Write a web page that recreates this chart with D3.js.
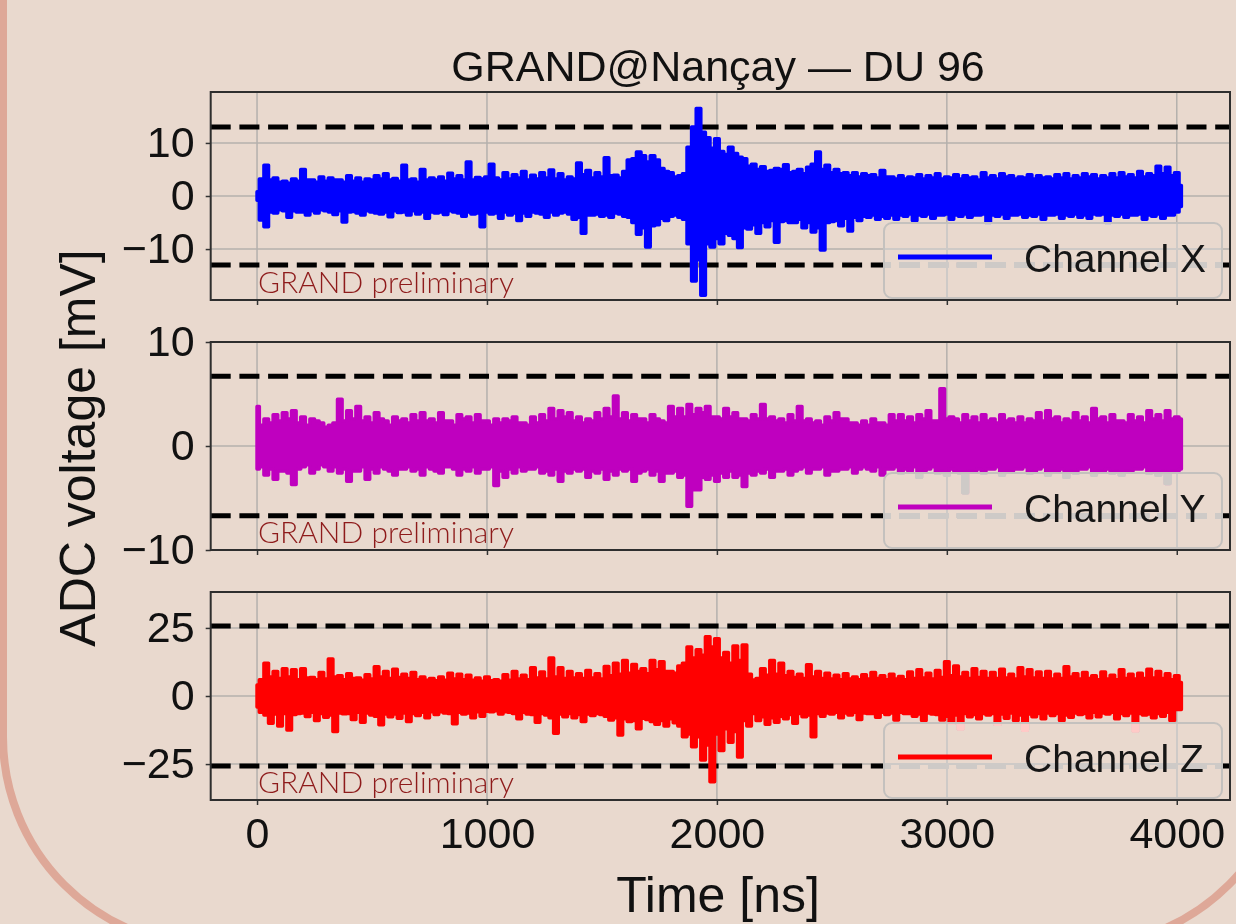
<!DOCTYPE html>
<html>
<head>
<meta charset="utf-8">
<script src="https://cdn.jsdelivr.net/npm/d3@7"></script>
<style>
  html, body { margin: 0; padding: 0; background: #e9d9ce; }
  svg { display: block; }
  .legend-veil { mix-blend-mode: lighten; }
</style>
</head>
<body>
<div id="chart"></div>
<script>
// traces are kept as upper / lower envelopes in 20 ns bins (mV)
const binNs = 20;

const channelXUpper = [
  0.8, 3.2, 5.8, 3.0, 3.4, 2.6, 2.8, 2.4, 3.2, 2.8,
  5.0, 3.0, 3.0, 2.6, 3.6, 2.8, 3.4, 3.0, 3.0, 2.6,
  3.8, 2.8, 3.4, 2.6, 3.2, 3.0, 3.8, 3.2, 4.2, 3.0,
  3.3, 2.8, 5.8, 3.0, 3.2, 2.6, 5.0, 3.0, 3.4, 3.0,
  3.6, 2.8, 4.3, 3.2, 3.8, 3.0, 6.4, 3.0, 3.5, 3.2,
  3.6, 6.0, 3.4, 3.0, 4.4, 3.2, 4.0, 3.4, 4.6, 3.0,
  3.9, 3.2, 4.4, 3.4, 4.9, 3.2, 4.2, 3.0, 3.6, 3.2,
  6.2, 4.0, 4.8, 3.4, 4.4, 3.6, 7.2, 3.8, 3.9, 3.4,
  4.6, 6.8, 7.0, 8.3, 7.6, 6.4, 7.6, 6.8, 5.2, 4.6,
  4.4, 3.6, 3.8, 4.2, 9.2, 13.0, 16.5, 12.0, 11.0, 9.0,
  10.8, 8.4, 7.8, 9.2, 8.0, 7.3, 7.0, 5.6, 6.0, 5.0,
  5.5, 4.6, 4.8, 5.2, 5.0, 5.9, 4.4, 4.6, 5.0, 4.2,
  5.4, 6.0, 8.3, 5.0, 5.8, 4.4, 5.0, 4.2, 4.4, 3.8,
  4.4, 3.6, 4.2, 3.8, 4.0, 3.4, 4.8, 3.6, 3.6, 3.2,
  3.8, 3.2, 3.6, 3.4, 4.0, 3.2, 3.8, 3.4, 4.2, 3.2,
  3.6, 3.4, 4.0, 3.2, 3.8, 3.4, 3.6, 3.0, 4.4, 3.4,
  3.8, 3.2, 4.2, 3.6, 3.8, 3.2, 3.6, 3.4, 4.0, 3.2,
  3.8, 3.4, 3.6, 3.2, 4.0, 3.4, 4.2, 3.2, 3.8, 3.4,
  4.2, 3.6, 4.0, 3.2, 3.8, 3.4, 4.2, 3.4, 4.4, 3.6,
  4.0, 3.4, 4.6, 3.6, 4.2, 3.8, 5.6, 4.2, 5.4, 3.8,
  4.4, 2.0
];

const channelXLower = [
  -0.8, -4.5, -5.8, -3.0, -3.2, -2.6, -2.8, -4.0, -2.8, -3.0,
  -3.0, -3.6, -2.8, -3.2, -2.6, -2.8, -3.0, -3.5, -2.8, -4.9,
  -3.0, -2.9, -3.2, -3.6, -2.8, -3.0, -3.2, -3.4, -3.0, -3.9,
  -2.8, -3.1, -3.0, -3.6, -2.8, -3.4, -3.0, -4.2, -3.0, -3.2,
  -3.0, -3.5, -2.8, -3.0, -3.2, -3.8, -3.0, -3.4, -3.2, -5.8,
  -3.0, -3.4, -3.2, -4.2, -3.0, -3.6, -3.2, -4.6, -3.2, -3.8,
  -3.0, -3.2, -3.4, -4.0, -3.0, -3.6, -3.2, -3.0, -3.4, -4.4,
  -4.0, -7.0, -3.6, -3.6, -3.4, -3.8, -3.6, -4.0, -3.2, -3.4,
  -3.8, -4.0, -5.0, -7.2, -6.0, -9.6, -5.6, -5.4, -4.2, -4.6,
  -3.8, -3.6, -4.0, -4.4, -9.0, -16.0, -12.0, -18.7, -9.0, -9.6,
  -8.0, -9.0, -7.0, -7.4, -8.0, -9.7, -6.0, -6.2, -5.4, -7.0,
  -5.0, -5.8, -4.6, -8.7, -4.8, -4.6, -5.0, -5.0, -4.4, -6.0,
  -5.0, -6.8, -6.0, -10.2, -5.0, -4.8, -4.6, -5.6, -4.2, -6.6,
  -4.0, -4.6, -3.8, -4.0, -3.6, -4.4, -3.8, -4.2, -3.6, -4.4,
  -3.6, -3.8, -3.4, -4.6, -3.6, -3.8, -3.4, -4.2, -3.6, -3.6,
  -3.4, -4.4, -3.6, -3.8, -3.4, -4.0, -3.6, -3.6, -3.4, -5.0,
  -3.6, -3.8, -3.4, -4.2, -3.6, -3.6, -3.4, -4.0, -3.6, -3.8,
  -3.4, -4.4, -3.6, -3.6, -3.4, -4.2, -3.6, -3.8, -3.4, -4.0,
  -3.6, -4.2, -3.4, -3.6, -3.4, -5.0, -3.6, -3.8, -3.4, -4.0,
  -3.6, -3.6, -3.4, -4.4, -3.6, -3.8, -3.4, -4.2, -3.6, -3.6,
  -3.0, -2.0
];

const channelYUpper = [
  3.8, 2.0, 2.6, 2.2, 3.0, 2.4, 3.2, 2.6, 3.4, 2.2,
  2.8, 2.0, 2.6, 2.4, 2.2, 1.8, 2.0, 2.2, 4.5, 2.4,
  3.4, 2.6, 3.8, 2.4, 2.8, 2.2, 3.2, 2.6, 2.4, 2.0,
  2.8, 2.4, 2.6, 2.2, 3.0, 2.4, 3.2, 2.4, 2.6, 2.2,
  3.2, 2.4, 2.4, 2.0, 3.0, 2.6, 2.8, 2.2, 3.0, 2.4,
  2.4, 2.0, 2.6, 2.2, 2.6, 2.4, 2.8, 2.2, 2.2, 2.0,
  2.8, 2.2, 3.0, 2.4, 3.6, 2.6, 3.4, 2.8, 3.2, 2.4,
  2.8, 2.2, 2.6, 2.4, 3.2, 2.6, 3.6, 2.8, 4.8, 2.6,
  3.2, 2.4, 3.0, 2.6, 2.6, 2.2, 3.0, 2.6, 2.4, 2.2,
  3.8, 2.8, 3.6, 2.8, 4.0, 3.0, 3.6, 3.2, 3.8, 2.8,
  2.8, 2.6, 3.6, 2.8, 3.2, 2.6, 2.6, 2.4, 3.0, 2.6,
  4.0, 2.6, 2.8, 2.4, 2.6, 2.2, 3.0, 2.4, 3.8, 2.4,
  2.6, 2.2, 2.4, 2.0, 2.8, 2.4, 3.2, 2.6, 2.6, 2.2,
  2.2, 2.0, 2.4, 2.0, 2.6, 2.2, 2.2, 2.0, 3.0, 2.4,
  3.0, 2.4, 2.8, 2.2, 3.0, 2.6, 3.4, 2.4, 2.4, 5.5,
  2.6, 2.8, 2.6, 2.2, 3.0, 2.4, 2.8, 2.2, 3.0, 2.4,
  2.6, 2.2, 3.0, 2.4, 2.6, 2.2, 2.8, 2.2, 2.6, 2.4,
  3.2, 2.4, 3.4, 2.6, 2.8, 2.2, 2.6, 2.4, 3.2, 2.4,
  2.8, 2.2, 3.6, 2.6, 2.8, 2.2, 3.0, 2.4, 2.4, 2.2,
  3.0, 2.4, 2.8, 2.2, 3.4, 2.6, 3.0, 2.4, 3.4, 2.6,
  2.8, 2.6
];

const channelYLower = [
  -2.2, -2.0, -2.8, -2.2, -3.2, -2.4, -2.4, -2.6, -3.7, -2.2,
  -2.0, -1.8, -2.6, -2.2, -1.8, -2.0, -2.4, -2.0, -2.6, -2.2,
  -3.4, -2.4, -2.4, -2.0, -3.2, -2.2, -2.6, -2.0, -2.2, -2.4,
  -2.8, -2.2, -2.2, -2.0, -2.4, -2.2, -2.8, -2.0, -2.2, -2.4,
  -2.6, -2.0, -2.0, -2.2, -2.8, -2.2, -2.4, -2.0, -2.6, -2.2,
  -2.2, -2.0, -3.8, -2.4, -3.0, -2.2, -2.6, -2.0, -2.4, -2.2,
  -2.2, -2.0, -2.6, -2.4, -2.8, -2.2, -3.4, -2.4, -2.6, -2.2,
  -2.4, -2.2, -3.0, -2.4, -2.6, -2.2, -3.2, -2.4, -2.8, -2.2,
  -2.4, -2.2, -3.4, -2.6, -2.4, -2.2, -2.8, -2.4, -3.4, -2.6,
  -2.6, -2.4, -3.0, -2.8, -5.8, -4.2, -4.2, -3.0, -3.2, -2.8,
  -3.4, -2.6, -3.0, -2.4, -3.0, -2.8, -3.9, -2.6, -2.8, -2.4,
  -2.6, -2.2, -3.0, -2.4, -2.4, -2.2, -2.8, -2.4, -2.2, -2.0,
  -2.6, -2.2, -2.2, -2.0, -2.8, -2.4, -2.4, -2.2, -2.2, -2.0,
  -2.6, -2.2, -2.0, -2.2, -2.4, -2.0, -2.8, -2.2, -2.2, -2.0,
  -2.6, -2.2, -2.4, -2.0, -3.0, -2.4, -2.2, -2.0, -2.6, -2.4,
  -2.8, -2.2, -2.4, -2.6, -4.5, -2.4, -2.4, -2.2, -2.6, -2.2,
  -2.2, -2.0, -2.8, -2.4, -2.4, -2.2, -2.2, -2.0, -2.6, -2.4,
  -2.2, -2.0, -2.8, -2.4, -2.4, -2.2, -3.0, -2.4, -2.6, -2.2,
  -2.2, -2.0, -2.8, -2.4, -2.4, -2.2, -2.6, -2.4, -2.8, -2.4,
  -2.4, -2.2, -2.2, -2.0, -2.6, -2.4, -2.8, -2.4, -3.6, -2.4,
  -2.4, -2.2
];

const channelZUpper = [
  4.0, 6.0, 12.0, 7.0, 9.0, 6.4, 10.0, 7.0, 9.6, 6.0,
  10.0, 6.6, 6.8, 6.0, 8.6, 6.2, 13.6, 7.0, 7.4, 6.0,
  8.2, 6.4, 6.6, 5.8, 7.8, 6.2, 10.7, 7.0, 9.0, 6.4,
  9.8, 6.8, 8.0, 6.4, 8.6, 6.0, 7.0, 5.8, 6.4, 5.6,
  7.0, 5.8, 8.4, 6.2, 8.0, 6.0, 7.6, 5.8, 6.6, 5.4,
  7.0, 5.6, 6.0, 5.4, 7.8, 5.8, 9.0, 6.2, 7.6, 6.0,
  10.4, 6.6, 8.8, 6.2, 14.0, 7.0, 10.4, 6.4, 9.0, 6.6,
  8.2, 6.4, 9.4, 6.6, 8.2, 6.2, 10.8, 7.4, 12.0, 8.0,
  13.0, 8.4, 11.6, 9.0, 10.0, 8.2, 13.0, 9.6, 12.6, 9.0,
  9.0, 8.4, 11.0, 12.0, 18.0, 14.0, 17.0, 15.0, 21.8, 18.0,
  21.0, 14.0, 16.0, 12.0, 18.4, 13.0, 18.7, 8.0, 5.9, 6.4,
  10.0, 7.6, 13.0, 8.0, 12.0, 7.4, 9.0, 6.8, 8.0, 6.4,
  11.5, 7.0, 9.0, 6.4, 8.4, 6.2, 7.6, 6.0, 8.2, 6.2,
  7.0, 6.0, 7.8, 6.2, 8.6, 6.4, 7.4, 6.0, 8.0, 6.2,
  7.2, 6.0, 8.8, 6.4, 9.6, 6.6, 8.4, 6.2, 9.4, 6.8,
  12.6, 7.4, 11.0, 7.0, 8.6, 6.4, 10.0, 6.8, 9.0, 6.4,
  8.6, 6.4, 9.8, 6.6, 8.0, 6.2, 10.4, 7.0, 9.6, 6.6,
  8.8, 6.4, 9.0, 6.2, 8.0, 6.4, 10.7, 7.0, 8.2, 6.2,
  8.6, 6.4, 7.4, 6.0, 8.8, 6.2, 7.6, 6.0, 9.6, 6.4,
  8.0, 6.2, 8.4, 6.4, 9.8, 6.6, 9.0, 6.4, 8.2, 6.0,
  7.4, 5.0
];

const channelZLower = [
  -4.0, -6.0, -7.0, -10.0, -6.6, -11.0, -6.4, -12.5, -6.8, -6.4,
  -6.2, -7.5, -6.0, -9.0, -6.4, -7.8, -7.0, -13.0, -6.2, -6.5,
  -6.4, -8.6, -6.0, -9.6, -6.2, -7.0, -7.4, -10.6, -6.6, -7.6,
  -6.6, -8.2, -6.2, -9.4, -6.4, -7.2, -6.0, -8.0, -5.8, -6.8,
  -5.8, -6.2, -6.4, -10.2, -6.0, -6.6, -6.2, -8.0, -5.8, -7.4,
  -5.6, -5.8, -5.4, -6.6, -5.8, -6.0, -6.4, -8.4, -6.0, -6.6,
  -6.8, -9.6, -6.4, -7.0, -8.0, -13.7, -6.6, -7.6, -6.4, -8.0,
  -6.8, -9.4, -6.6, -7.2, -6.4, -6.8, -7.4, -8.8, -8.0, -14.3,
  -8.4, -9.4, -9.0, -12.0, -8.2, -8.6, -9.4, -10.4, -9.0, -11.0,
  -8.4, -9.8, -11.0, -15.0, -14.0, -18.6, -15.0, -23.5, -18.0, -31.5,
  -14.0, -20.0, -12.0, -17.0, -13.0, -22.4, -9.0, -11.0, -6.4, -9.0,
  -7.6, -10.4, -8.0, -9.6, -7.4, -8.4, -6.8, -10.0, -6.4, -7.6,
  -7.0, -15.0, -6.4, -7.4, -6.2, -6.6, -6.0, -8.0, -6.2, -7.0,
  -6.0, -8.6, -6.2, -6.4, -6.4, -7.8, -6.0, -6.8, -6.2, -8.8,
  -6.0, -6.4, -6.4, -7.4, -6.6, -9.0, -6.2, -6.6, -6.8, -8.8,
  -7.4, -10.0, -7.0, -12.0, -6.4, -7.6, -6.8, -8.4, -6.4, -7.0,
  -6.4, -10.4, -6.6, -8.2, -6.2, -9.0, -7.0, -12.6, -6.6, -7.6,
  -6.4, -8.4, -6.2, -7.2, -6.4, -9.0, -7.0, -7.8, -6.2, -6.8,
  -6.4, -8.0, -6.0, -7.6, -6.2, -6.6, -6.0, -8.4, -6.4, -7.2,
  -6.2, -12.8, -6.4, -7.0, -6.6, -8.0, -6.4, -7.4, -6.0, -9.0,
  -5.0, -5.0
];

const channelNames = ['Channel X', 'Channel Y', 'Channel Z'];
const thresholds = [13.0, 6.7, 25.7];
const yLimits = [19.6, 10, 38.2];
const yTicks = [[-10, 0, 10], [-10, 0, 10], [-25, 0, 25]];
const xTicks = [0, 1000, 2000, 3000, 4000];
const xLimits = [-201.5, 4231.5];

const traceColors = ['#0000ff', '#bf00bf', '#ff0000'];

const width = 1236;
const height = 924;
const plotLeft = 210.7;
const plotRight = 1230;
const panelTops = [92, 342, 592];
const panelHeight = 208;
const tickFont = '"Liberation Sans", Arial, sans-serif';

const svg = d3
  .select('#chart')
  .append('svg')
  .attr('width', width)
  .attr('height', height);

svg.append('rect').attr('width', width).attr('height', height).attr('fill', '#e9d9ce');

// rounded slide frame, only the lower corners show
svg
  .append('rect')
  .attr('x', 3)
  .attr('y', -500)
  .attr('width', 1287)
  .attr('height', 1446)
  .attr('rx', 209)
  .attr('fill', 'none')
  .attr('stroke', '#dea898')
  .attr('stroke-width', 8);

const x = d3.scaleLinear().domain(xLimits).range([plotLeft, plotRight]);

const channels = [
  { upper: channelXUpper, lower: channelXLower },
  { upper: channelYUpper, lower: channelYLower },
  { upper: channelZUpper, lower: channelZLower }
];

channels.forEach((ch, k) => {
  const top = panelTops[k];
  const bottom = top + panelHeight;
  const y = d3.scaleLinear().domain([-yLimits[k], yLimits[k]]).range([bottom, top]);

  svg
    .append('clipPath')
    .attr('id', `clip-${k}`)
    .append('rect')
    .attr('x', plotLeft)
    .attr('y', top)
    .attr('width', plotRight - plotLeft)
    .attr('height', panelHeight);

  const g = svg.append('g');
  const inner = g.append('g').attr('clip-path', `url(#clip-${k})`);

  // grid
  inner
    .selectAll('.vgrid')
    .data(xTicks)
    .join('line')
    .attr('x1', d => x(d))
    .attr('x2', d => x(d))
    .attr('y1', top)
    .attr('y2', bottom)
    .attr('stroke', '#b4b0ad')
    .attr('stroke-width', 1.5);

  inner
    .selectAll('.hgrid')
    .data(yTicks[k])
    .join('line')
    .attr('x1', plotLeft)
    .attr('x2', plotRight)
    .attr('y1', d => y(d))
    .attr('y2', d => y(d))
    .attr('stroke', '#b4b0ad')
    .attr('stroke-width', 1.5);

  // trigger thresholds
  inner
    .selectAll('.thr')
    .data([thresholds[k], -thresholds[k]])
    .join('line')
    .attr('x1', plotLeft)
    .attr('x2', plotRight)
    .attr('y1', d => y(d))
    .attr('y2', d => y(d))
    .attr('stroke', '#000')
    .attr('stroke-width', 5)
    .attr('stroke-dasharray', '20 8.7');

  // trace envelope
  const bins = ch.upper.map((u, i) => ({ t: i * binNs, hi: u, lo: ch.lower[i] }));
  const area = d3
    .area()
    .curve(d3.curveStep)
    .x(d => x(d.t))
    .y0(d => y(d.lo))
    .y1(d => y(d.hi));

  inner
    .append('path')
    .datum(bins)
    .attr('fill', traceColors[k])
    .attr('stroke', traceColors[k])
    .attr('stroke-width', 3.5)
    .attr('stroke-linejoin', 'round')
    .attr('d', area);

  g.append('text')
    .attr('x', 258)
    .attr('y', bottom - 7)
    .attr('font-family', 'Lato, "Open Sans", sans-serif')
    .attr('font-weight', 300)
    .attr('font-size', 29)
    .attr('fill', '#8e1b1b')
    .attr('textLength', 256)
    .attr('lengthAdjust', 'spacingAndGlyphs')
    .text('GRAND preliminary');

  // legend
  const lw = 338;
  const lh = 75;
  const lx = plotRight - 8 - lw;
  const ly = bottom - 2 - lh;

  g.append('rect')
    .attr('class', 'legend-veil')
    .attr('x', lx)
    .attr('y', ly)
    .attr('width', lw)
    .attr('height', lh)
    .attr('rx', 8)
    .attr('fill', 'rgb(206,202,199)');

  g.append('rect')
    .attr('x', lx)
    .attr('y', ly)
    .attr('width', lw)
    .attr('height', lh)
    .attr('rx', 8)
    .attr('fill', 'none')
    .attr('stroke', '#c4c1be')
    .attr('stroke-width', 2);

  g.append('line')
    .attr('x1', lx + 14)
    .attr('x2', lx + 108)
    .attr('y1', ly + 34)
    .attr('y2', ly + 34)
    .attr('stroke', traceColors[k])
    .attr('stroke-width', 5);

  g.append('text')
    .attr('x', lx + 140)
    .attr('y', ly + 49)
    .attr('font-family', tickFont)
    .attr('font-size', 39)
    .attr('fill', '#161616')
    .text(channelNames[k]);

  // axes
  const yAxis = g
    .append('g')
    .attr('transform', `translate(${plotLeft},0)`)
    .call(d3.axisLeft(y).tickValues(yTicks[k]).tickSize(5).tickPadding(11).tickFormat(d3.format('d')));

  const xAxis = g
    .append('g')
    .attr('transform', `translate(0,${bottom})`)
    .call(d3.axisBottom(x).tickValues(xTicks).tickSize(5).tickPadding(12).tickFormat(k === 2 ? d3.format('d') : () => ''));

  [yAxis, xAxis].forEach(ax => {
    ax.select('.domain').remove();
    ax.selectAll('.tick line').attr('stroke', '#333').attr('stroke-width', 1.5);
    ax.selectAll('.tick text')
      .attr('font-family', tickFont)
      .attr('font-size', 43)
      .attr('fill', '#111');
  });

  // frame
  g.append('rect')
    .attr('x', plotLeft)
    .attr('y', top)
    .attr('width', plotRight - plotLeft)
    .attr('height', panelHeight)
    .attr('fill', 'none')
    .attr('stroke', '#2e2e2e')
    .attr('stroke-width', 2);
});

// titles
svg
  .append('text')
  .attr('x', 718)
  .attr('y', 81)
  .attr('text-anchor', 'middle')
  .attr('font-family', tickFont)
  .attr('font-size', 43)
  .attr('fill', '#111')
  .text('GRAND@Nançay — DU 96');

svg
  .append('text')
  .attr('x', 718)
  .attr('y', 912)
  .attr('text-anchor', 'middle')
  .attr('font-family', tickFont)
  .attr('font-size', 50)
  .attr('fill', '#111')
  .text('Time [ns]');

svg
  .append('text')
  .attr('transform', 'translate(95,448) rotate(-90)')
  .attr('text-anchor', 'middle')
  .attr('font-family', tickFont)
  .attr('font-size', 50)
  .attr('fill', '#111')
  .text('ADC voltage [mV]');
</script>
</body>
</html>
